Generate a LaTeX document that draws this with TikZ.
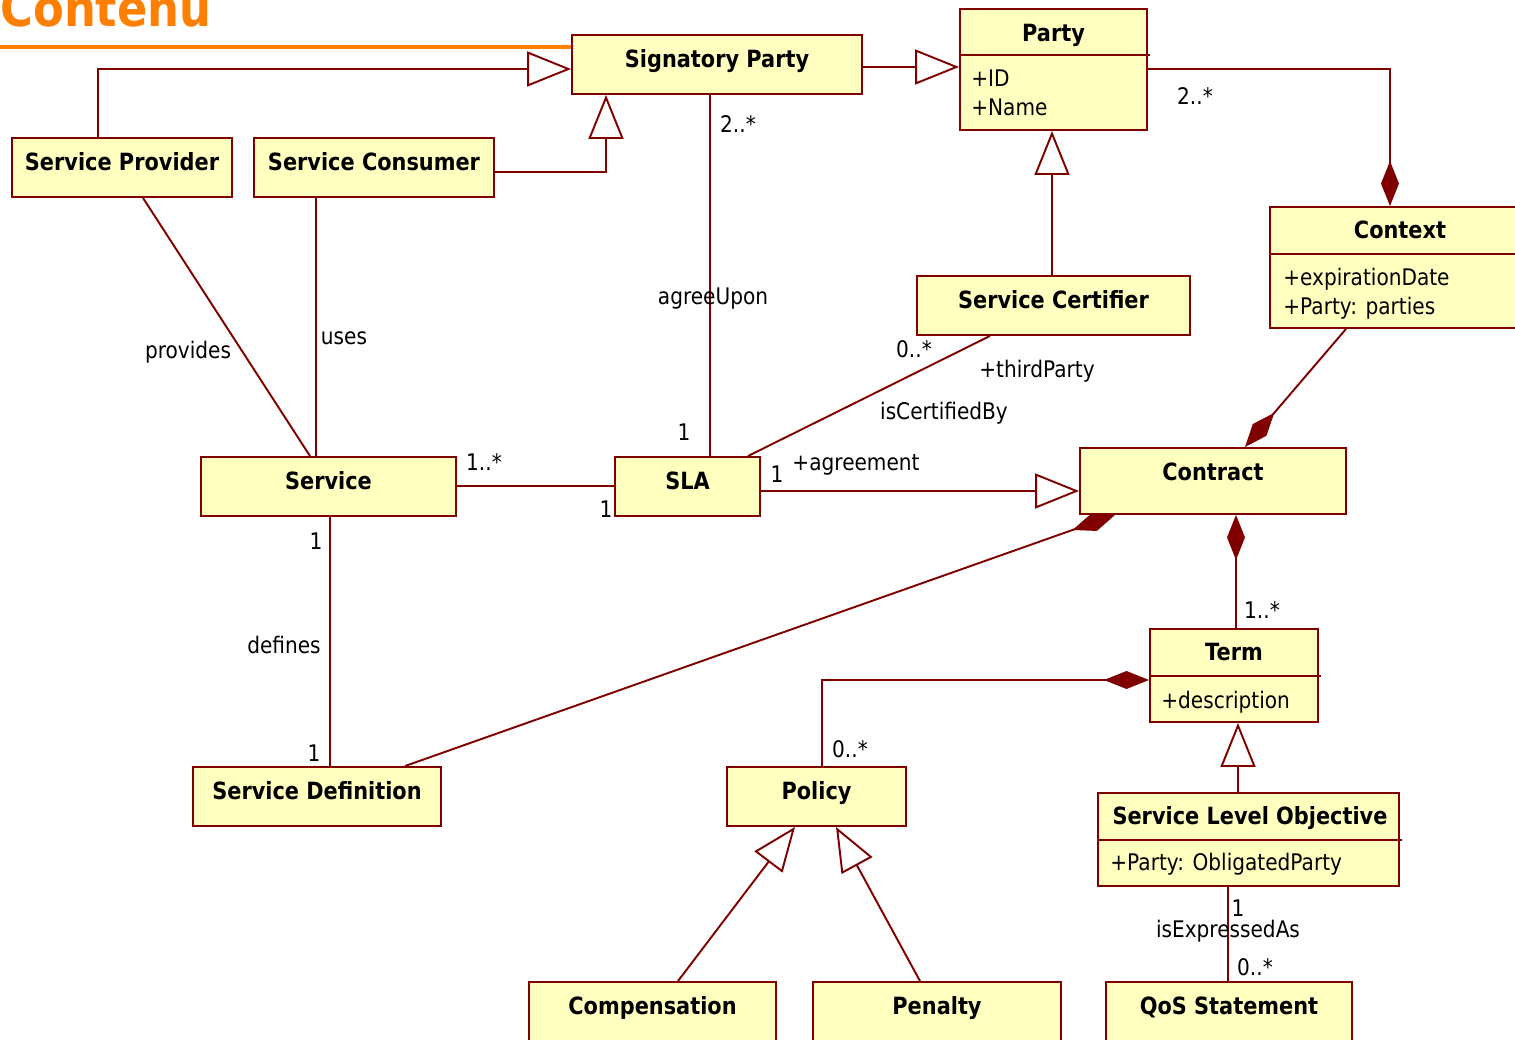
\documentclass[tikz,border=0pt]{standalone}
\usepackage{fontspec}
\setmainfont{DejaVu Sans}[FakeStretch=0.88]
\usetikzlibrary{arrows.meta}
\definecolor{umlred}{RGB}{128,0,0}
\definecolor{umlfill}{RGB}{255,255,192}
\definecolor{titleorange}{RGB}{255,128,0}
\tikzset{
  cls/.style={draw=umlred, fill=umlfill, line width=1.1pt, inner sep=0pt,
    font=\fontsize{13.5}{16}\selectfont\bfseries, text height=0.35cm, text depth=0.24cm},
  clsname/.style={inner sep=0pt, font=\fontsize{13.5}{16}\selectfont\bfseries,
    text height=0.35cm, text depth=0pt},
  attr/.style={inner sep=0pt, anchor=north west, align=left, font=\fontsize{13}{16.5}\selectfont},
  lbl/.style={inner sep=0pt, font=\fontsize{13}{16}\selectfont, text height=0.33cm, text depth=0pt},
  assoc/.style={draw=umlred, line width=1.1pt},
  genl/.style={assoc, -{Triangle[open, length=0.88cm, width=0.7cm]}},
  compos/.style={assoc, -{Diamond[length=0.9cm, width=0.36cm]}},
}

\begin{document}
\begin{tikzpicture}[x=0.02cm, y=-0.02cm]
  \useasboundingbox (0,0) rectangle (1515,1040);

  \node[inner sep=0pt, text=titleorange, font=\fontsize{29}{32}\selectfont\bfseries,
    text height=0.74cm, text depth=0pt] (title) at (106,8.5) {Contenu};

  % classes
  \node[cls, minimum width=5.8cm, minimum height=1.18cm] (sig) at (717,64.5) {Signatory Party};
  \node[cls, minimum width=3.74cm, minimum height=2.42cm] (party) at (1053.5,69.5) {};
  \node[cls, minimum width=4.4cm, minimum height=1.18cm] (sprov) at (122,167.5) {Service Provider};
  \node[cls, minimum width=4.8cm, minimum height=1.18cm] (scons) at (374,167.5) {Service Consumer};
  \node[cls, minimum width=5.2cm, minimum height=2.42cm] (context) at (1400,267.5) {};
  \node[cls, minimum width=5.46cm, minimum height=1.18cm] (scert) at (1053.5,305.5) {Service Certifier};
  \node[cls, minimum width=5.1cm, minimum height=1.18cm] (service) at (328.5,486.5) {Service};
  \node[cls, minimum width=2.9cm, minimum height=1.18cm] (sla) at (687.5,486.5) {SLA};
  \node[cls, minimum width=5.32cm, minimum height=1.32cm, text depth=0.36cm] (contract) at (1213,481) {Contract};
  \node[cls, minimum width=3.36cm, minimum height=1.86cm] (term) at (1234,675.5) {};
  \node[cls, minimum width=4.96cm, minimum height=1.18cm] (sdef) at (317,796.5) {Service Definition};
  \node[cls, minimum width=3.58cm, minimum height=1.18cm] (policy) at (816.5,796.5) {Policy};
  \node[cls, minimum width=6.02cm, minimum height=1.86cm] (slo) at (1248.5,839.5) {};
  \node[cls, minimum width=4.94cm, minimum height=1.18cm] (compens) at (652.5,1011.5) {Compensation};
  \node[cls, minimum width=4.96cm, minimum height=1.18cm] (penalty) at (937,1011.5) {Penalty};
  \node[cls, minimum width=4.92cm, minimum height=1.18cm] (qos) at (1229,1011.5) {QoS Statement};

  % compartments
  \node[clsname] (partyname) at (1053.5,33) {Party};
  \draw[assoc] (party.west |- 0,55) -- (1150,55);
  \node[attr] (partyattr) at (971,70) {+ID\\+Name};
  \node[clsname] (contextname) at (1400,230) {Context};
  \draw[assoc] (context.west |- 0,254) -- (1530,254);
  \node[attr] (contextattr) at (1283,268) {+expirationDate\\+Party: parties};
  \node[clsname] (termname) at (1234,652) {Term};
  \draw[assoc] (term.west |- 0,676) -- (1321,676);
  \node[attr] (termattr) at (1161,691) {+description};
  \node[clsname] (sloname) at (1250,816) {Service Level Objective};
  \draw[assoc] (slo.west |- 0,840) -- (1402,840);
  \node[attr] (sloattr) at (1110,853) {+Party: ObligatedParty};

  \draw[titleorange, line width=2.8pt] (0,47) -- (sig.west |- 0,47);

  % generalisations
  \draw[genl] (sprov.north -| 98,0) |- (sig.west |- 0,69);
  \draw[genl] (scons.east |- 0,172) -| (sig.south -| 606,0);
  \draw[genl] (sig.east |- 0,67) -- (party.west |- 0,67);
  \draw[genl] (scert.north -| 1052,0) -- (party.south -| 1052,0);
  \draw[genl] (sla.east |- 0,491) -- (contract.west |- 0,491);
  \draw[genl] (slo.north -| 1238,0) -- (term.south -| 1238,0);
  \draw[genl] (compens.north -| 678,0) -- (policy.south -| 795,0);
  \draw[genl] (penalty.north -| 920,0) -- (policy.south -| 836,0);

  % compositions
  \draw[compos] (party.east |- 0,69) -| (context.north -| 1390,0);
  \draw[compos] (context.south -| 1346,0) -- (contract.north -| 1245,0);
  \draw[compos] (sdef.north -| 405,0) -- (contract.south -| 1115,0);
  \draw[compos] (term.north -| 1236,0) -- (contract.south -| 1236,0);
  \draw[compos] (policy.north -| 822,0) |- (term.west |- 0,680);

  % associations
  \draw[assoc] (sig.south -| 710,0) -- (sla.north -| 710,0);
  \draw[assoc] (sprov.south -| 143,0) -- (service.north -| 310,0);
  \draw[assoc] (scons.south -| 316,0) -- (service.north -| 316,0);
  \draw[assoc] (service.east |- 0,486) -- (sla.west |- 0,486);
  \draw[assoc] (sla.north -| 748,0) -- (scert.south -| 990,0);
  \draw[assoc] (service.south -| 330,0) -- (sdef.north -| 330,0);
  \draw[assoc] (slo.south -| 1228,0) -- (qos.north -| 1228,0);

  % labels
  \node[lbl] (m1) at (1195,96) {2..*};
  \node[lbl] (m2) at (738,124) {2..*};
  \node[lbl] (agree) at (713,296) {agreeUpon};
  \node[lbl] (m3) at (684,432) {1};
  \node[lbl] (prov) at (188,350) {provides};
  \node[lbl] (uses) at (344,336) {uses};
  \node[lbl] (m4) at (484,462) {1..*};
  \node[lbl] (m5) at (606,509) {1};
  \node[lbl] (m6) at (914,349) {0..*};
  \node[lbl] (third) at (1037,369) {+thirdParty};
  \node[lbl] (cert) at (944,411) {isCertifiedBy};
  \node[lbl] (m7) at (777,474) {1};
  \node[lbl] (agreement) at (856,462) {+agreement};
  \node[lbl] (m8) at (1262,610) {1..*};
  \node[lbl] (m9) at (850,749) {0..*};
  \node[lbl] (m10) at (1238,908) {1};
  \node[lbl] (expr) at (1228,929) {isExpressedAs};
  \node[lbl] (m11) at (1255,967) {0..*};
  \node[lbl] (m12) at (316,541) {1};
  \node[lbl] (defines) at (284,645) {defines};
  \node[lbl] (m13) at (314,753) {1};
\end{tikzpicture}
\end{document}
